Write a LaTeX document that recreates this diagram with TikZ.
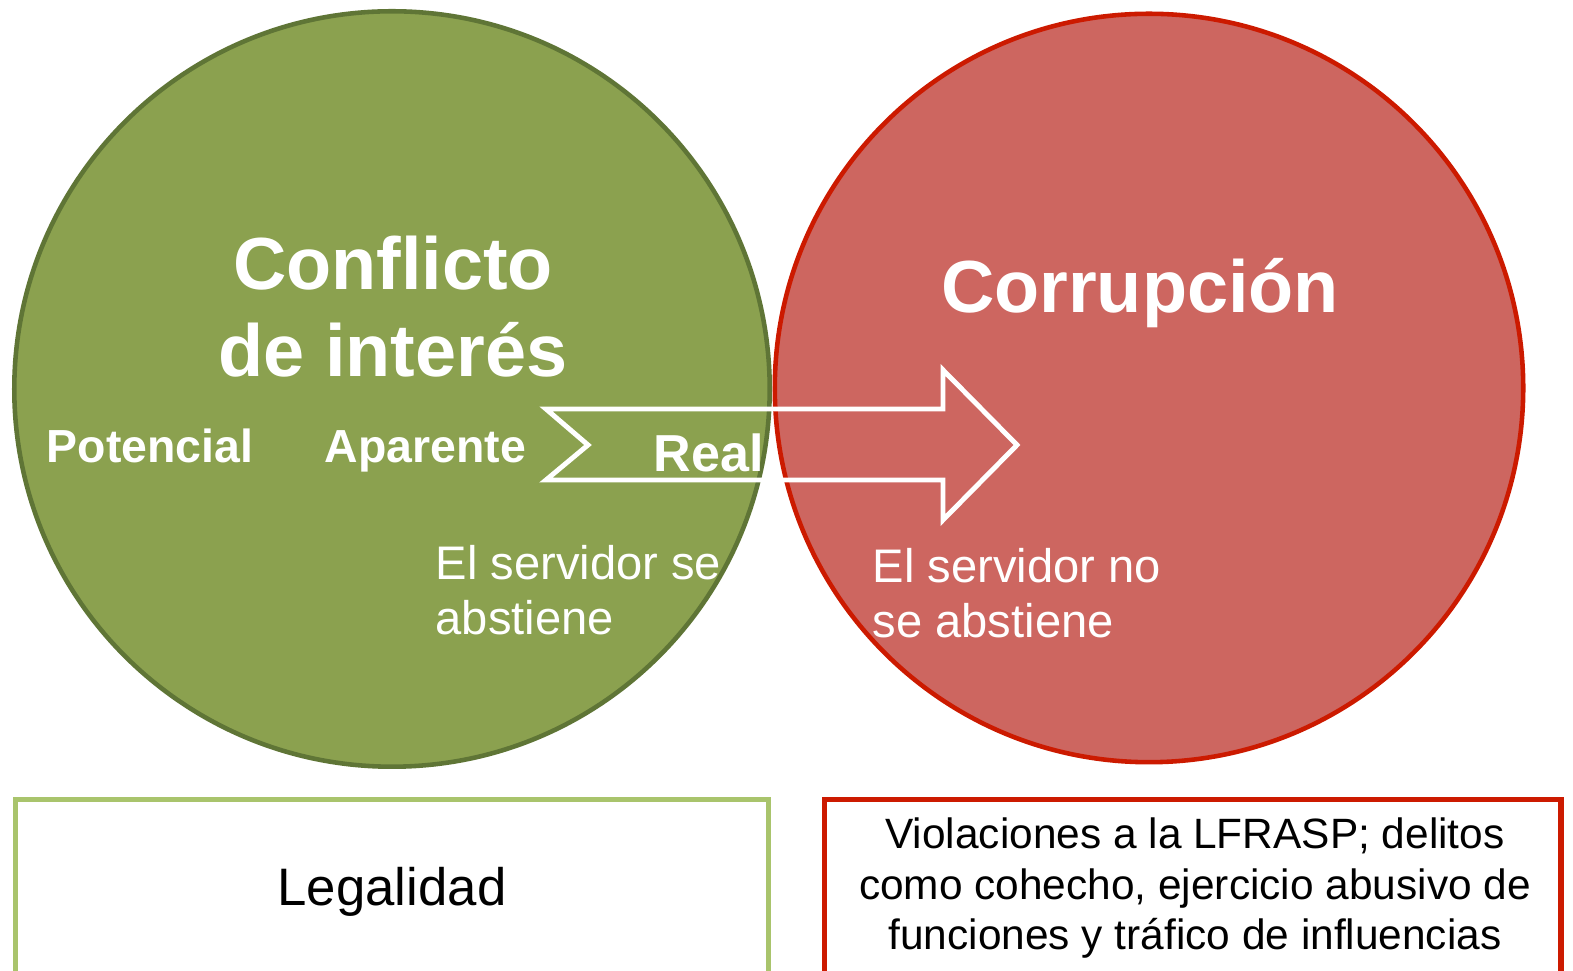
\documentclass[tikz,border=0pt]{standalone}
\usepackage{fontspec}
\setmainfont{Liberation Sans}
\definecolor{olivefill}{RGB}{139,161,79}
\definecolor{oliveline}{RGB}{95,117,54}
\definecolor{rosefill}{RGB}{205,102,96}
\definecolor{redline}{RGB}{204,26,0}
\definecolor{lightolive}{RGB}{169,196,108}
\begin{document}
\begin{tikzpicture}[x=0.01cm,y=-0.01cm,
	disc/.style={circle,inner sep=0pt,line width=1.3pt},
	bigtext/.style={text=white,font=\fontsize{21}{24.8}\selectfont\bfseries,align=center,inner sep=0pt},
	kindtext/.style={text=white,font=\fontsize{13.2}{15}\selectfont\bfseries,inner sep=0pt},
	notetext/.style={text=white,font=\fontsize{13.4}{15.9}\selectfont,align=left,inner sep=0pt},
	boxtext/.style={text=black,inner sep=0pt,align=center}]
	\useasboundingbox (0,0) rectangle (1573,971);
	\node[disc,fill=olivefill,draw=oliveline,minimum size=7.55cm] (conflicto) at (392,389) {};
	\node[disc,fill=rosefill,draw=redline,minimum size=7.48cm] (corrupcion) at (1149,388) {};
	% flecha
	\draw[white,line width=1.4pt] (546,409)--(588,445)--(546,480)--(943,480)--(943,520)--(1017,445)--(943,370)--(943,409)--cycle;
	\node[bigtext,anchor=base] (conflictot) at (393,377) {Conflicto\\de interés};
	\node[bigtext,anchor=base] (corrupciont) at (1140,313) {Corrupción};
	\node[kindtext,anchor=base west] (potencial) at (46,463) {Potencial};
	\node[kindtext,anchor=base west] (aparente) at (324,463) {Aparente};
	\node[kindtext,font=\fontsize{14.8}{17}\selectfont\bfseries,anchor=base west] (real) at (653,472) {Real};
	\node[notetext,anchor=base west] (seabstiene) at (435,635) {El servidor se\\abstiene};
	\node[notetext,anchor=base west] (noabstiene) at (872,638) {El servidor no\\se abstiene};
	% cuadros
	\draw[lightolive,line width=1.5pt] (15.5,799.5) rectangle (768.5,990);
	\draw[redline,line width=1.5pt] (824.5,799.5) rectangle (1561,990);
	\node[boxtext,font=\fontsize{15}{18}\selectfont,anchor=base] (legalidad) at (392,906) {Legalidad};
	\node[boxtext,font=\fontsize{12.06}{14.5}\selectfont,anchor=base] (violaciones) at (1195,950) {Violaciones a la LFRASP; delitos\\como cohecho, ejercicio abusivo de\\funciones y tráfico de influencias};
\end{tikzpicture}
\end{document}
